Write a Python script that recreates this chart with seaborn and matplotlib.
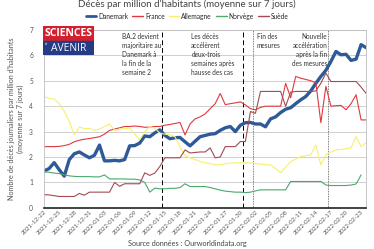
import numpy as np
import pandas as pd
import matplotlib
matplotlib.use("Agg")
import matplotlib.pyplot as plt
import matplotlib.dates as mdates
import seaborn as sns

# -- data ------------------------------------------------------
dates = pd.date_range("2021-12-22", "2022-02-24", freq="D")

danemark = [1.45, 1.55, 1.78, 1.5, 1.25, 1.9, 2.13, 2.2, 2.08, 1.97,
            2.07, 2.47, 1.85, 1.85, 1.87, 1.85, 1.9, 2.44, 2.45, 2.55,
            2.83, 2.8, 2.95, 3.07, 2.85, 2.72, 2.76, 2.77, 2.6, 2.44,
            2.62, 2.8, 2.85, 2.9, 2.92, 3.05, 3.15, 3.2, 3.0, 3.25,
            3.35, 3.36, 3.3, 3.3, 3.19, 3.5, 3.58, 3.75, 3.88, 3.94,
            4.1, 4.25, 4.38, 4.6, 4.9, 5.17, 5.41, 5.76, 6.15, 6.02,
            6.04, 5.8, 5.85, 6.42, 6.3]
france = [2.41, 2.41, 2.41, 2.42, 2.45, 2.5, 2.6, 2.66, 2.7, 2.73,
          2.76, 2.8, 2.9, 3.05, 3.1, 3.15, 3.2, 3.2, 3.22, 3.2,
          3.17, 3.18, 3.2, 3.2, 3.25, 3.28, 3.32, 3.36, 2.87, 3.3,
          3.5, 3.58, 3.7, 3.9, 4.1, 4.5, 4.06, 4.1, 4.13, 4.17,
          4.05, 3.9, 3.86, 3.95, 4.0, 4.0, 4.0, 4.0, 4.9, 4.33,
          5.17, 5.1, 5.05, 5.0, 4.92, 3.35, 4.78, 4.0, 4.02, 4.03,
          3.86, 4.1, 4.45, 3.46, 3.46]
allemagne = [4.38, 4.3, 4.28, 4.1, 3.8, 3.4, 2.87, 3.18, 3.12, 3.12,
             3.05, 3.1, 3.2, 3.3, 3.05, 3.1, 3.12, 3.14, 2.9, 2.68,
             3.0, 3.2, 3.14, 2.94, 2.9, 2.88, 2.8, 2.4, 2.05, 1.97,
             1.9, 1.82, 1.78, 1.74, 1.69, 1.7, 1.73, 1.77, 1.77, 1.77,
             1.77, 1.77, 1.75, 1.72, 1.7, 1.69, 1.55, 1.38, 1.6, 1.82,
             1.92, 2.02, 2.05, 2.09, 2.48, 1.69, 2.09, 2.2, 2.28, 2.3,
             2.33, 2.36, 2.81, 2.41, 2.56]
norvege = [1.42, 1.4, 1.37, 1.35, 1.3, 1.26, 1.24, 1.23, 1.23, 1.23,
           1.22, 1.22, 1.3, 1.14, 1.14, 1.14, 1.14, 1.13, 1.13, 1.1,
           1.0, 0.62, 0.78, 0.75, 0.75, 0.77, 0.77, 0.8, 0.95, 0.84,
           0.84, 0.84, 0.84, 0.8, 0.75, 0.7, 0.66, 0.64, 0.62, 0.62,
           0.6, 0.62, 0.67, 0.71, 0.71, 0.71, 0.71, 0.71, 0.71, 1.04,
           1.04, 1.04, 1.04, 1.04, 1.04, 1.04, 0.9, 0.88, 0.88, 0.88,
           0.88, 0.9, 0.94, 1.3, np.nan]
suede = [0.52, 0.51, 0.48, 0.45, 0.45, 0.45, 0.45, 0.57, 0.5, 0.62,
         0.62, 0.62, 0.62, 0.62, 1.0, 0.85, 0.95, 0.95, 0.95, 0.95,
         1.38, 1.28, 1.37, 1.63, 1.97, 1.97, 1.97, 1.97, 2.28, 2.16,
         2.18, 2.2, 2.2, 2.36, 1.97, 2.0, 2.41, 2.41, 2.41, 2.61,
         2.61, 3.79, 3.72, 4.58, 4.58, 4.58, 4.58, 4.58, 4.0, 4.55,
         4.58, 4.58, 4.58, 4.58, 4.6, 4.9, 5.3, 4.97, 4.97, 4.97,
         4.97, 4.97, 4.97, 4.75, 4.5]

pays = ["Danemark", "France", "Allemagne", "Norvège", "Suède"]
colors = {"Danemark": "#2f5a98", "France": "#e2383f", "Allemagne": "#f6f06e",
          "Norvège": "#4aa96c", "Suède": "#a24b50"}
widths = {"Danemark": 2.4, "France": 0.8, "Allemagne": 0.8, "Norvège": 0.8, "Suède": 0.8}

df = pd.DataFrame({"date": dates, "Danemark": danemark, "France": france,
                   "Allemagne": allemagne, "Norvège": norvege, "Suède": suede})
df = df.melt(id_vars="date", var_name="pays", value_name="deces")

# event lines and notes
lignes_tirets = [pd.Timestamp("2022-01-14 12:00"), pd.Timestamp("2022-01-30 14:00")]
lignes_points = [pd.Timestamp("2022-02-01 10:00"), pd.Timestamp("2022-02-16 12:00")]

# -- figure ----------------------------------------------------
sns.set_style("white")
plt.rcParams["font.family"] = ["Lato", "DejaVu Sans"]

fig = plt.figure(figsize=(3.74, 2.49), dpi=100)
ax = fig.add_axes([0.118, 0.165, 0.861, 0.715])

for p in pays:
    sns.lineplot(data=df[df.pays == p], x="date", y="deces", color=colors[p],
                 linewidth=widths[p], ax=ax, label=p, legend=False)

for d in lignes_tirets:
    ax.axvline(d, color="black", lw=0.7, ls=(0, (5, 3)), zorder=1)
for d in lignes_points:
    ax.axvline(d, color="#555555", lw=0.6, ls=(0, (1, 1)), zorder=1)

ax.set_ylim(0, 7)
ax.set_xlim(dates[0], dates[-1])
ax.set_yticks(range(0, 8))
ax.yaxis.grid(True, color="#c8c8c8", lw=0.6)
ax.set_axisbelow(True)
ax.set_xticks(pd.date_range("2021-12-22", "2022-02-23", freq="3D"))
ax.xaxis.set_major_formatter(mdates.DateFormatter("%Y-%m-%d"))
ax.tick_params(axis="x", labelsize=4.3, rotation=45, colors="#555555", length=0, pad=1)
ax.tick_params(axis="y", labelsize=4.8, colors="#555555", length=0, pad=8)
for lab in ax.get_xticklabels():
    lab.set_ha("right")
    lab.set_rotation_mode("anchor")
ax.set_xlabel("")
ax.set_ylabel("Nombre de décès journaliers par million d'habitants\n(moyenne sur 7 jours)",
              fontsize=5.2, color="#555555", labelpad=4)
for s in ["top", "right", "left"]:
    ax.spines[s].set_color("#bdbdbd")
    ax.spines[s].set_linewidth(0.6)
ax.spines["bottom"].set_color("#222222")
ax.spines["bottom"].set_linewidth(1.2)

# notes
tr = ax.get_xaxis_transform()
note_kw = dict(transform=tr, fontsize=4.7, va="top", linespacing=1.35, color="#333333")
ax.text(pd.Timestamp("2022-01-06 12:00"), 0.985,
        "BA.2 devient\nmajoritaire au\nDanemark à\nla fin de la\nsemaine 2", ha="left", **note_kw)
ax.text(pd.Timestamp("2022-01-20 06:00"), 0.985,
        "Les décès\naccélèrent\ndeux-trois\nsemaines après\nhausse des cas", ha="left", **note_kw)
ax.text(pd.Timestamp("2022-02-02 06:00"), 0.985, "Fin des\nmesures", ha="left", **note_kw)
ax.text(pd.Timestamp("2022-02-16 06:00"), 0.985,
        "Nouvelle\naccélération\naprès la fin\ndes mesures", ha="right", **note_kw)

# title, legend, source
fig.text(0.5, 0.982, "Décès par million d'habitants (moyenne sur 7 jours)",
         ha="center", va="center", fontsize=7, color="#444444")
handles, labels = ax.get_legend_handles_labels()
leg = fig.legend(handles, labels, loc="center", bbox_to_anchor=(0.5, 0.935), ncol=5,
                 frameon=False, fontsize=4.8, handlelength=1.6, handletextpad=0.3,
                 columnspacing=0.6)
for h in leg.get_lines():
    h.set_linewidth(1.0)
leg.get_lines()[0].set_linewidth(2.0)
fig.text(0.5, 0.022, "Source données : Ourworldindata.org", ha="center", va="center",
         fontsize=5.2, color="#444444")

# logo
logo = fig.add_axes([0.115, 0.78, 0.135, 0.115])
logo.set_xlim(0, 1)
logo.set_ylim(0, 1)
logo.axis("off")
logo.add_patch(plt.Rectangle((0, 0.48), 1, 0.52, color="#d4202e"))
logo.add_patch(plt.Rectangle((0, 0), 1, 0.48, color="#253b85"))
logo.text(0.5, 0.73, "SCIENCES", color="white", fontsize=7.5, fontweight="bold",
          ha="center", va="center", family=["Open Sans", "DejaVu Sans"])
logo.text(0.5, 0.23, "AVENIR", color="white", fontsize=7.5,
          ha="center", va="center", family=["Open Sans", "DejaVu Sans"])
logo.text(0.07, 0.36, "et", color="white", fontsize=2.5, ha="center", va="center")

fig.savefig("out.png", dpi=100)
